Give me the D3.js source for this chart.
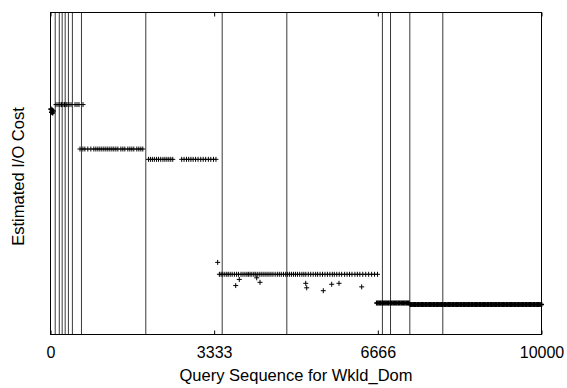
<!DOCTYPE html>
<html>
<head>
<meta charset="utf-8">
<script src="https://cdn.jsdelivr.net/npm/d3@7"></script>
<style>
  body { margin: 0; background: #fff; }
  text { font-family: "Liberation Sans", Arial, sans-serif; }
</style>
</head>
<body>
<div id="chart"></div>
<script>
// Tick labels on the query axis
var xTicks = [0, 3333, 6666, 10000];

// Queries where the layout was reorganised (vertical lines)
var reorgQueries = [96, 179, 238, 299, 365, 446, 631, 1941, 3497, 4813, 6760, 6925, 7318, 7990];

// Phase A: first few queries
var phaseA_q = [8, 20, 32, 44, 56];
var phaseA_cost = [700, 690, 697, 688, 694];

// Phase B
var phaseB_q = [112, 153, 193, 224, 255, 285, 316, 336, 377, 418, 499, 540, 580, 662];
var phaseB_cost = 714;

// Phase C
var phaseC_q = [601, 660, 700, 760, 822, 883, 924, 965, 1005, 1046, 1087, 1128, 1168, 1209, 1250,
  1290, 1331, 1372, 1433, 1474, 1514, 1575, 1616, 1657, 1697, 1758, 1799, 1840, 1880];
var phaseC_cost = 576;

// Phase D
var phaseD_q = [1995, 2035, 2075, 2115, 2160, 2200, 2245, 2290, 2330, 2370, 2410, 2450, 2490,
  2672, 2720, 2770, 2815, 2860, 2905, 2955, 3005, 3060, 3110, 3160, 3215, 3265, 3320, 3370];
var phaseD_cost = 544;

// Phase E (main level)
var phaseE_q = [3440, 3475, 3510, 3550, 3590, 3620, 3660, 3700, 3745, 3790, 3830, 3880, 3920, 3960,
  4000, 4030, 4065, 4100, 4140, 4170, 4210, 4250, 4290, 4330, 4370, 4410, 4450, 4490, 4530, 4575,
  4620, 4660, 4700, 4745, 4790, 4830, 4870, 4910, 4950, 4990, 5030, 5075, 5120, 5160, 5200, 5250,
  5300, 5350, 5400, 5440, 5490, 5540, 5590, 5640, 5690, 5740, 5780, 5830, 5880, 5930, 5990, 6040,
  6090, 6140, 6200, 6250, 6300, 6360, 6420, 6480, 6540, 6600, 6660];
var phaseE_cost = 187;

// Phase E outliers
var outlier_q = [3405, 3772, 3845, 4200, 4267, 5198, 5218, 5556, 5727, 5876, 6338];
var outlier_cost = [224, 152, 171, 176, 162, 159, 145, 136, 156, 159, 148];

// Phase F (dense band)
var phaseF1_q = [6644, 6670, 6700, 6725, 6755, 6780, 6810, 6835, 6865, 6890, 6920, 6945, 6975, 7000,
  7030, 7055, 7085, 7110, 7140, 7165, 7195, 7220, 7250, 7275, 7300];
var phaseF1_cost = 98;
var phaseF2_q = [7330, 7360, 7385, 7415, 7440, 7470, 7495, 7525, 7550, 7580, 7605, 7635, 7660, 7690,
  7715, 7745, 7770, 7800, 7825, 7855, 7880, 7910, 7935, 7965, 7990, 8020, 8045, 8075, 8100, 8130,
  8155, 8185, 8210, 8240, 8265, 8295, 8320, 8350, 8375, 8405, 8430, 8460, 8485, 8515, 8540, 8570,
  8595, 8625, 8650, 8680, 8705, 8735, 8760, 8790, 8815, 8845, 8870, 8900, 8925, 8955, 8980, 9010,
  9035, 9065, 9090, 9120, 9145, 9175, 9200, 9230, 9255, 9285, 9310, 9340, 9365, 9395, 9420, 9450,
  9475, 9505, 9530, 9560, 9585, 9615, 9640, 9670, 9695, 9725, 9750, 9780, 9805, 9835, 9860, 9890,
  9915, 9945, 9970, 10000];
var phaseF2_cost = 93;

// Dimensions
var W = 567, H = 388;
var margin = { top: 12.5, right: 25.5, bottom: 53.5, left: 50.5 },
  width = W - margin.left - margin.right,
  height = H - margin.top - margin.bottom;

var svg = d3.select("#chart")
  .append("svg")
  .attr("width", W)
  .attr("height", H)
  .append("g")
  .attr("transform", "translate(" + margin.left + "," + margin.top + ")");

var x = d3.scaleLinear().domain([0, 10000]).range([0, width]);
var y = d3.scaleLinear().domain([0, 1000]).range([height, 0]);

// Build point list (dense flag only thickens the crowded final band)
var points = [];
phaseA_q.forEach((q, i) => points.push({ q: q, c: phaseA_cost[i], dense: true }));
phaseB_q.forEach(q => points.push({ q: q, c: phaseB_cost }));
phaseC_q.forEach(q => points.push({ q: q, c: phaseC_cost }));
phaseD_q.forEach(q => points.push({ q: q, c: phaseD_cost }));
phaseE_q.forEach(q => points.push({ q: q, c: phaseE_cost }));
outlier_q.forEach((q, i) => points.push({ q: q, c: outlier_cost[i] }));
phaseF1_q.forEach(q => points.push({ q: q, c: phaseF1_cost, dense: true }));
phaseF2_q.forEach(q => points.push({ q: q, c: phaseF2_cost, dense: true }));

// Reorganisation lines
svg.selectAll(".reorg")
  .data(reorgQueries)
  .enter()
  .append("line")
  .attr("class", "reorg")
  .attr("x1", d => x(d))
  .attr("x2", d => x(d))
  .attr("y1", 0)
  .attr("y2", height)
  .attr("stroke", "#222")
  .attr("stroke-width", 0.9);

// Plus markers
var arm = 2.5;
svg.selectAll(".pt")
  .data(points)
  .enter()
  .append("path")
  .attr("class", "pt")
  .attr("d", d => {
    var cx = x(d.q), cy = y(d.c);
    return "M" + (cx - arm) + "," + cy + "H" + (cx + arm) +
      "M" + cx + "," + (cy - arm) + "V" + (cy + arm);
  })
  .attr("stroke", "#000")
  .attr("stroke-width", d => d.dense ? 1.6 : 1)
  .attr("fill", "none");

// Frame
svg.append("rect")
  .attr("x", 0)
  .attr("y", 0)
  .attr("width", width)
  .attr("height", height)
  .attr("fill", "none")
  .attr("stroke", "#000")
  .attr("stroke-width", 1);

// Axes with inward ticks
var xAxis = svg.append("g")
  .attr("transform", "translate(0," + height + ")")
  .call(d3.axisBottom(x).tickValues(xTicks).tickFormat(d3.format("d")).tickSize(-4).tickPadding(12.5));
xAxis.select(".domain").remove();
xAxis.selectAll("text")
  .style("font-size", "16px")
  .attr("fill", "#000");

var xTop = svg.append("g")
  .call(d3.axisTop(x).tickValues(xTicks).tickSize(-4).tickFormat(""));
xTop.select(".domain").remove();

// Axis titles
svg.append("text")
  .attr("x", width / 2)
  .attr("y", height + 46.5)
  .attr("text-anchor", "middle")
  .style("font-size", "16.5px")
  .text("Query Sequence for Wkld_Dom");

svg.append("text")
  .attr("transform", "translate(" + (-27) + "," + (height / 2 + 3) + ")rotate(-90)")
  .attr("text-anchor", "middle")
  .style("font-size", "16.5px")
  .text("Estimated I/O Cost");
</script>
</body>
</html>
